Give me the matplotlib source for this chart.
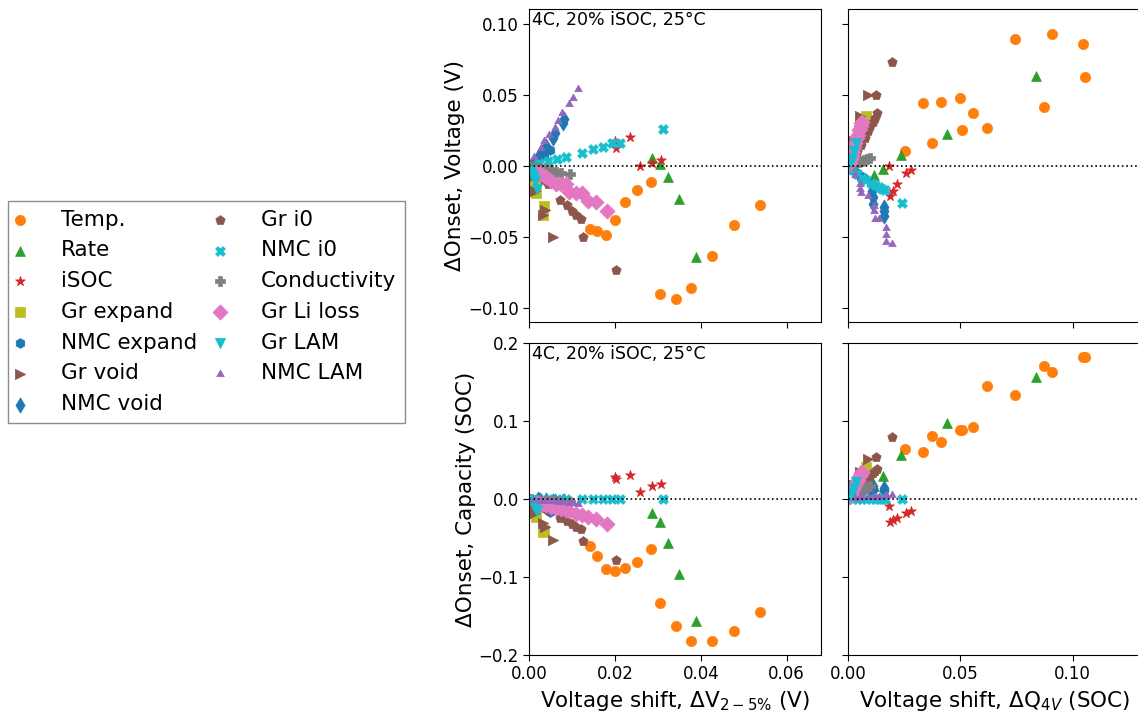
import matplotlib
matplotlib.use("Agg")
import matplotlib.pyplot as plt

# ---- data: left column (x = dV_2-5%), right column (x = dQ_4V) ----
# each series: dv / v_l / q_l for left panels, dq / v_r / q_r for right panels

temp_dv = [0.0141, 0.0158, 0.0178, 0.0199, 0.0223, 0.0250, 0.0284, 0.0304, 0.0341, 0.0378, 0.0426, 0.0477, 0.0538]
temp_v_l = [-0.0449, -0.0458, -0.0486, -0.0380, -0.0258, -0.0167, -0.0115, -0.0904, -0.0939, -0.0864, -0.0636, -0.0418, -0.0275]
temp_q_l = [-0.060, -0.073, -0.090, -0.093, -0.089, -0.081, -0.064, -0.133, -0.163, -0.182, -0.182, -0.170, -0.145]
temp_dq = [0.0253, 0.0335, 0.0372, 0.0413, 0.0499, 0.0505, 0.0554, 0.0619, 0.0744, 0.0874, 0.0907, 0.1047, 0.1056]
temp_v_r = [0.0108, 0.0444, 0.0160, 0.0451, 0.0479, 0.0251, 0.0375, 0.0270, 0.0897, 0.0413, 0.0934, 0.0859, 0.0629]
temp_q_r = [0.064, 0.061, 0.081, 0.073, 0.089, 0.089, 0.093, 0.145, 0.133, 0.1705, 0.163, 0.183, 0.183]

rate_dv = [0.0287, 0.0304, 0.0323, 0.0350, 0.0389]
rate_v_l = [0.0058, 0.0012, -0.0082, -0.0235, -0.0646]
rate_q_l = [-0.0175, -0.030, -0.056, -0.0965, -0.157]
rate_dq = [0.0113, 0.0153, 0.0236, 0.0440, 0.0837]
rate_v_r = [-0.0066, -0.0023, 0.0075, 0.0228, 0.0636]
rate_q_r = [0.017, 0.030, 0.056, 0.097, 0.157]

isoc_dv = [0.0199, 0.0202, 0.0234, 0.0258, 0.0287, 0.0307]
isoc_v_l = [0.0176, 0.0125, 0.0206, 0.0002, 0.0021, 0.0042]
isoc_q_l = [0.0286, 0.0256, 0.0308, 0.0094, 0.017, 0.019]
isoc_dq = [0.0181, 0.0187, 0.0201, 0.0218, 0.0259, 0.0279]
isoc_v_r = [-0.0002, -0.0211, -0.0176, -0.0129, -0.0047, -0.0028]
isoc_q_r = [-0.0086, -0.030, -0.027, -0.025, -0.018, -0.016]

grexp_dv = [0.0004, 0.0008, 0.0013, 0.0015, 0.0032, 0.0035]
grexp_v_l = [-0.003, -0.007, -0.013, -0.019, -0.035, -0.028]
grexp_q_l = [-0.004, -0.009, -0.017, -0.023, -0.042, -0.040]
grexp_dq = [0.0008, 0.0020, 0.0040, 0.0068, 0.0071, 0.0080]
grexp_v_r = [0.003, 0.008, 0.016, 0.0275, 0.029, 0.0352]
grexp_q_r = [0.004, 0.010, 0.020, 0.033, 0.036, 0.0414]

nmcexp_dv = [0.0005, 0.0012, 0.0022, 0.0035, 0.0049]
nmcexp_v_l = [0.001, 0.003, 0.005, 0.008, 0.0113]
nmcexp_q_l = [-0.001, -0.004, -0.008, -0.012, -0.017]
nmcexp_dq = [0.0008, 0.0020, 0.0040, 0.0065, 0.0100]
nmcexp_v_r = [-0.001, -0.003, -0.005, -0.008, -0.012]
nmcexp_q_r = [0.001, 0.004, 0.007, 0.011, 0.016]

grvoid_dv = [0.0006, 0.0013, 0.0033, 0.0036, 0.0055]
grvoid_v_l = [-0.008, -0.018, -0.035, -0.031, -0.0505]
grvoid_q_l = [-0.008, -0.018, -0.031, -0.0355, -0.0526]
grvoid_dq = [0.0010, 0.0024, 0.0050, 0.0053, 0.0087]
grvoid_v_r = [0.008, 0.0176, 0.030, 0.0352, 0.0498]
grvoid_q_r = [0.008, 0.018, 0.031, 0.035, 0.052]

nmcvoid_dv = [0.0020, 0.0024, 0.0039, 0.0055, 0.0059, 0.0078, 0.0082]
nmcvoid_v_l = [0.0058, 0.0082, 0.0141, 0.0199, 0.0235, 0.0305, 0.0329]
nmcvoid_q_l = [-0.0005, -0.001, -0.001, -0.002, -0.002, -0.003, -0.003]
nmcvoid_dq = [0.0050, 0.0106, 0.0108, 0.0108, 0.0158, 0.0160, 0.0160]
nmcvoid_v_r = [-0.008, -0.018, -0.022, -0.027, -0.029, -0.032, -0.0355]
nmcvoid_q_r = [0.004, 0.009, 0.012, 0.017, 0.010, 0.012, 0.0137]

gri0_dv = [0.0007, 0.0015, 0.0025, 0.0035, 0.0044, 0.0072, 0.0087, 0.0099, 0.0110, 0.0120, 0.0126, 0.0201]
gri0_v_l = [-0.002, -0.004, -0.007, -0.010, -0.0125, -0.024, -0.0277, -0.0317, -0.0345, -0.0376, -0.050, -0.0735]
gri0_q_l = [-0.002, -0.004, -0.007, -0.010, -0.014, -0.024, -0.028, -0.032, -0.0355, -0.0385, -0.054, -0.0786]
gri0_dq = [0.0010, 0.0025, 0.0040, 0.0055, 0.0075, 0.0087, 0.0097, 0.0108, 0.0118, 0.0127, 0.0123, 0.0194]
gri0_v_r = [0.002, 0.006, 0.010, 0.015, 0.020, 0.0245, 0.028, 0.031, 0.034, 0.0375, 0.0498, 0.0732]
gri0_q_r = [0.002, 0.006, 0.010, 0.016, 0.022, 0.026, 0.030, 0.033, 0.036, 0.039, 0.054, 0.079]

nmci0_dv = [0.0022, 0.0043, 0.0065, 0.0086, 0.0122, 0.0148, 0.0171, 0.0193, 0.0212, 0.0311]
nmci0_v_l = [0.0020, 0.0035, 0.0050, 0.0063, 0.0094, 0.0117, 0.0134, 0.0158, 0.0163, 0.0258]
nmci0_q_l = [0.0, 0.0, 0.0, 0.0, 0.0, 0.0, 0.0, 0.0, 0.0, 0.0]
nmci0_dq = [0.0020, 0.0040, 0.0060, 0.0080, 0.0100, 0.0120, 0.0135, 0.0150, 0.0164, 0.0241]
nmci0_v_r = [-0.003, -0.006, -0.0085, -0.010, -0.0118, -0.0135, -0.0150, -0.0160, -0.0169, -0.0263]
nmci0_q_r = [0.0, 0.0, 0.0, 0.0, 0.0, 0.0, 0.0, 0.0, 0.0, 0.0]

cond_dv = [0.0005, 0.0014, 0.0026, 0.0038, 0.0050, 0.0062, 0.0075, 0.0094]
cond_v_l = [-0.0002, -0.0006, -0.0013, -0.002, -0.003, -0.004, -0.0048, -0.0059]
cond_q_l = [-0.0003, -0.0008, -0.0015, -0.002, -0.0025, -0.003, -0.0035, -0.004]
cond_dq = [0.0010, 0.0022, 0.0035, 0.0048, 0.0060, 0.0072, 0.0085, 0.0098]
cond_v_r = [0.0005, 0.0012, 0.002, 0.0028, 0.0036, 0.0043, 0.005, 0.0058]
cond_q_r = [0.002, 0.005, 0.007, 0.009, 0.011, 0.013, 0.015, 0.017]

liloss_dv = [0.0018, 0.0025, 0.0032, 0.0040, 0.0050, 0.0063, 0.0075, 0.0085, 0.0093, 0.0109, 0.0124, 0.0136, 0.0155, 0.0182]
liloss_v_l = [-0.0050, -0.0060, -0.0068, -0.0080, -0.0110, -0.0126, -0.0126, -0.0130, -0.0188, -0.0192, -0.0192, -0.0251, -0.0258, -0.0317]
liloss_q_l = [-0.005, -0.006, -0.007, -0.008, -0.010, -0.012, -0.0125, -0.014, -0.016, -0.019, -0.0205, -0.0227, -0.0252, -0.0316]
liloss_dq = [0.0003, 0.0006, 0.0010, 0.0015, 0.0020, 0.0026, 0.0032, 0.0039, 0.0044, 0.0049, 0.0052, 0.0055, 0.0058, 0.0061]
liloss_v_r = [0.001, 0.003, 0.005, 0.007, 0.010, 0.013, 0.016, 0.0195, 0.022, 0.0251, 0.026, 0.028, 0.030, 0.0312]
liloss_q_r = [0.002, 0.004, 0.007, 0.010, 0.013, 0.016, 0.019, 0.022, 0.025, 0.028, 0.030, 0.032, 0.034, 0.035]

grlam_dv = [0.0003, 0.0006, 0.0010, 0.0013, 0.0019]
grlam_v_l = [-0.003, -0.0055, -0.008, -0.0105, -0.016]
grlam_q_l = [-0.001, -0.004, -0.008, -0.012, -0.016]
grlam_dq = [0.0005, 0.0010, 0.0016, 0.0024, 0.0034]
grlam_v_r = [0.001, 0.003, 0.0058, 0.0106, 0.0164]
grlam_q_r = [0.001, 0.004, 0.008, 0.014, 0.022]

nmclam_dv = [0.0012, 0.0028, 0.0035, 0.0046, 0.0059, 0.0066, 0.0076, 0.0093, 0.0102, 0.0114]
nmclam_v_l = [0.0063, 0.0129, 0.0176, 0.0216, 0.027, 0.0317, 0.0375, 0.0439, 0.048, 0.0544]
nmclam_q_l = [-0.001, -0.002, -0.002, -0.003, -0.003, -0.004, -0.004, -0.005, -0.005, -0.006]
nmclam_dq = [0.0031, 0.0053, 0.0053, 0.0058, 0.0087, 0.0113, 0.0113, 0.0117, 0.0139, 0.0168, 0.0168, 0.0168, 0.0196]
nmclam_v_r = [-0.0066, -0.0129, -0.0164, -0.0192, -0.0216, -0.0282, -0.0317, -0.0376, -0.0376, -0.0441, -0.0488, -0.054, -0.0554]
nmclam_q_r = [0.001, 0.0015, 0.0017, 0.002, 0.002, 0.0025, 0.0025, 0.003, 0.003, 0.004, 0.004, 0.0045, 0.005]

labels = ["Temp.", "Rate", "iSOC", "Gr expand", "NMC expand", "Gr void", "NMC void",
          "Gr i0", "NMC i0", "Conductivity", "Gr Li loss", "Gr LAM", "NMC LAM"]

series = [
    (temp_dv, temp_v_l, temp_q_l, temp_dq, temp_v_r, temp_q_r),
    (rate_dv, rate_v_l, rate_q_l, rate_dq, rate_v_r, rate_q_r),
    (isoc_dv, isoc_v_l, isoc_q_l, isoc_dq, isoc_v_r, isoc_q_r),
    (grexp_dv, grexp_v_l, grexp_q_l, grexp_dq, grexp_v_r, grexp_q_r),
    (nmcexp_dv, nmcexp_v_l, nmcexp_q_l, nmcexp_dq, nmcexp_v_r, nmcexp_q_r),
    (grvoid_dv, grvoid_v_l, grvoid_q_l, grvoid_dq, grvoid_v_r, grvoid_q_r),
    (nmcvoid_dv, nmcvoid_v_l, nmcvoid_q_l, nmcvoid_dq, nmcvoid_v_r, nmcvoid_q_r),
    (gri0_dv, gri0_v_l, gri0_q_l, gri0_dq, gri0_v_r, gri0_q_r),
    (nmci0_dv, nmci0_v_l, nmci0_q_l, nmci0_dq, nmci0_v_r, nmci0_q_r),
    (cond_dv, cond_v_l, cond_q_l, cond_dq, cond_v_r, cond_q_r),
    (liloss_dv, liloss_v_l, liloss_q_l, liloss_dq, liloss_v_r, liloss_q_r),
    (grlam_dv, grlam_v_l, grlam_q_l, grlam_dq, grlam_v_r, grlam_q_r),
    (nmclam_dv, nmclam_v_l, nmclam_q_l, nmclam_dq, nmclam_v_r, nmclam_q_r),
]

# style per series
colors = ["C1", "C2", "C3", "C8", "C0", "C5", "C0", "C5", "C9", "C7", "C6", "C9", "C4"]
markers = ["o", "^", "*", "s", "h", ">", "d", "p", "X", "P", "D", "v", (3, 1, 0)]
sizes = [55, 50, 55, 50, 50, 55, 60, 50, 50, 50, 60, 55, 40]

W, H = 1138, 711
fig = plt.figure(figsize=(W / 100, H / 100), dpi=100)

def px_axes(x0, y0, x1, y1):
    return fig.add_axes([x0 / W, 1 - y1 / H, (x1 - x0) / W, (y1 - y0) / H])

ax_tl = px_axes(529.3, 9.3, 821, 321.7)
ax_tr = px_axes(848.3, 9.3, 1140, 321.7)
ax_bl = px_axes(529.3, 343.3, 821, 654.7)
ax_br = px_axes(848.3, 343.3, 1140, 654.7)

for i, (dv, vl, ql, dq, vr, qr) in enumerate(series):
    kw = dict(color=colors[i], marker=markers[i], s=sizes[i], linewidths=0.5)
    ax_tl.scatter(dv, vl, label=labels[i], **kw)
    ax_bl.scatter(dv, ql, **kw)
    ax_tr.scatter(dq, vr, **kw)
    ax_br.scatter(dq, qr, **kw)

for ax in (ax_tl, ax_tr, ax_bl, ax_br):
    ax.axhline(0, color="k", ls=":", lw=1.2)
    ax.tick_params(labelsize=12, length=4)

ax_tl.set_xlim(0, 0.068)
ax_bl.set_xlim(0, 0.068)
ax_tr.set_xlim(0, 0.13)
ax_br.set_xlim(0, 0.13)
ax_tl.set_ylim(-0.110, 0.1105)
ax_tr.set_ylim(-0.110, 0.1105)
ax_bl.set_ylim(-0.2, 0.2)
ax_br.set_ylim(-0.2, 0.2)

ax_tl.set_xticks([0, 0.02, 0.04, 0.06])
ax_bl.set_xticks([0, 0.02, 0.04, 0.06])
ax_tr.set_xticks([0, 0.05, 0.10])
ax_br.set_xticks([0, 0.05, 0.10])
ax_tl.set_yticks([-0.10, -0.05, 0, 0.05, 0.10])
ax_tr.set_yticks([-0.10, -0.05, 0, 0.05, 0.10])
ax_bl.set_yticks([-0.2, -0.1, 0, 0.1, 0.2])
ax_br.set_yticks([-0.2, -0.1, 0, 0.1, 0.2])

ax_tl.tick_params(labelbottom=False)
ax_tr.tick_params(labelbottom=False, labelleft=False)
ax_br.tick_params(labelleft=False)

ax_tl.set_ylabel("ΔOnset, Voltage (V)", fontsize=15.5, labelpad=2)
ax_bl.set_ylabel("ΔOnset, Capacity (SOC)", fontsize=15.5, labelpad=2)
ax_bl.set_xlabel("Voltage shift, ΔV$_{2-5\\%}$ (V)", fontsize=15.5)
ax_br.set_xlabel("Voltage shift, ΔQ$_{4V}$ (SOC)", fontsize=15.5)

for ax in (ax_tl, ax_bl):
    ax.text(0.01, 0.995, "4C, 20% iSOC, 25°C", transform=ax.transAxes,
            ha="left", va="top", fontsize=12.5)

handles, labs = ax_tl.get_legend_handles_labels()
leg = fig.legend(handles, labs, loc="upper left", bbox_to_anchor=(8 / W, 1 - 201 / H),
                 ncol=2, fontsize=15.5, fancybox=False, edgecolor="0.55",
                 borderaxespad=0, handlelength=0.32, handletextpad=1.74,
                 columnspacing=0.9, framealpha=1)

fig.savefig("out.png", dpi=100)
